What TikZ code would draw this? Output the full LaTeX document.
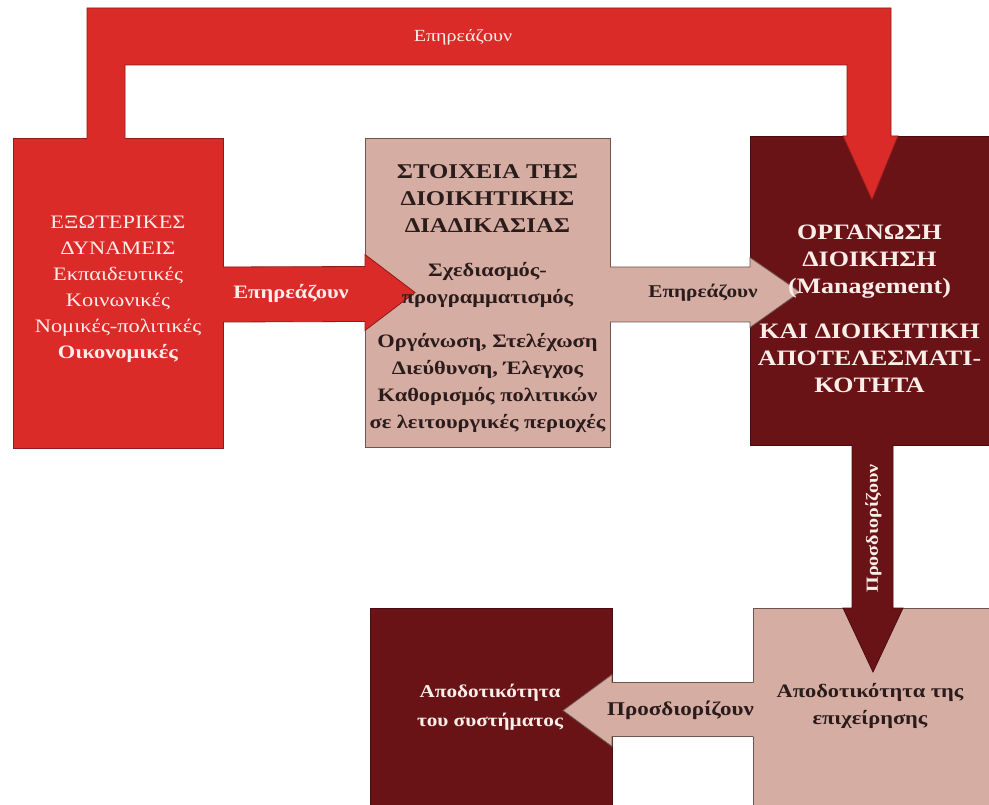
\documentclass[tikz,border=0pt]{standalone}
\usepackage{fontspec}
\setmainfont[FakeStretch=1.18]{Liberation Serif}
\usetikzlibrary{calc}

\definecolor{fireRed}{HTML}{DA2B29}
\definecolor{fireEdge}{HTML}{8E1A1A}
\definecolor{wine}{HTML}{6A1317}
\definecolor{wineEdge}{HTML}{4A0C0F}
\definecolor{rose}{HTML}{D5ADA3}
\definecolor{roseEdge}{HTML}{6E5650}
\definecolor{inkDark}{HTML}{2B1C1C}
\definecolor{paleText}{HTML}{FBEDE8}

\newcommand{\titlesize}{\fontsize{21}{27}\selectfont}
\newcommand{\bodysize}{\fontsize{19}{27}\selectfont}

\begin{document}
\begin{tikzpicture}[x=1pt,y=-1pt,
  panel/.style={rectangle, inner sep=0pt, outer sep=0pt, line width=0.9pt, anchor=north west},
  redpanel/.style={panel, fill=fireRed, draw=fireEdge},
  winepanel/.style={panel, fill=wine, draw=wineEdge},
  rosepanel/.style={panel, fill=rose, draw=roseEdge},
  edge/.style={line width=0.8pt, line join=miter},
  lighttext/.style={text=paleText, align=center, inner sep=0pt},
  darktext/.style={text=inkDark, align=center, inner sep=0pt},
]
\useasboundingbox (0,0) rectangle (989,805);
\fill[white] (0,0) rectangle (989,805);

% ---- panels ----
\node[redpanel, minimum width=210pt, minimum height=310pt] (ext) at (13,138) {};
\node[rosepanel, minimum width=245pt, minimum height=309pt] (proc) at (365,138) {};
\node[winepanel, minimum width=245pt, minimum height=309pt] (mgmt) at (750,136) {};
\node[winepanel, minimum width=242pt, minimum height=205pt] (sys) at (370,608) {};
\node[rosepanel, minimum width=242pt, minimum height=205pt] (gain) at (753,608) {};

% ---- top band: external forces -> management ----
\coordinate (bandOut) at (87,8);
\coordinate (bandIn) at (125,65);
\coordinate (bandOutR) at (891,8);
\coordinate (bandInR) at (847,65);
\coordinate (topTip) at (872,200);
\fill[fireRed] ($(bandOut |- ext.north)+(0,2)$) -- (bandOut) -- (bandOutR)
  -- (bandOutR |- mgmt.north) -- ++(7,0) -- (topTip)
  -- ($(bandInR |- mgmt.north)+(-4,0)$) -- (bandInR |- mgmt.north)
  -- (bandInR) -- (bandIn) -- ($(bandIn |- ext.north)+(0,2)$) -- cycle;
\draw[edge, fireEdge] (bandOut |- ext.north) -- (bandOut) -- (bandOutR)
  -- (bandOutR |- mgmt.north) -- ++(7,0) -- (topTip)
  -- ($(bandInR |- mgmt.north)+(-4,0)$) -- (bandInR |- mgmt.north)
  -- (bandInR) -- (bandIn) -- (bandIn |- ext.north);

% ---- external forces -> process elements ----
\fill[fireRed] ($(ext.east)+(-2,-26)$) -- ($(proc.west)+(0,-26)$) -- ($(proc.west)+(0,-38)$)
  -- ($(proc.west)+(50,0)$) -- ($(proc.west)+(0,38)$) -- ($(proc.west)+(0,29)$)
  -- ($(ext.east)+(-2,29)$) -- cycle;
\draw[edge, fireEdge] ($(ext.east)+(0,-26)$) -- ($(proc.west)+(0,-26)$) -- ($(proc.west)+(0,-38)$)
  -- ($(proc.west)+(50,0)$) -- ($(proc.west)+(0,38)$) -- ($(proc.west)+(0,29)$)
  -- ($(ext.east)+(0,29)$);

% ---- process elements -> management ----
\fill[rose] ($(proc.east)+(-2,-25.5)$) -- ($(mgmt.west)+(0,-23.5)$) -- ($(mgmt.west)+(0,-33)$)
  -- ($(mgmt.west)+(50,1.5)$) -- ($(mgmt.west)+(0,37)$) -- ($(mgmt.west)+(0,31.5)$)
  -- ($(proc.east)+(-2,29.5)$) -- cycle;
\draw[edge, roseEdge] ($(proc.east)+(0,-25.5)$) -- ($(mgmt.west)+(0,-23.5)$) -- ($(mgmt.west)+(0,-33)$)
  -- ($(mgmt.west)+(50,1.5)$) -- ($(mgmt.west)+(0,37)$) -- ($(mgmt.west)+(0,31.5)$)
  -- ($(proc.east)+(0,29.5)$);

% ---- management -> company efficiency ----
\coordinate (vL) at ($(mgmt.south)+(-20.5,-2)$);
\coordinate (vR) at ($(mgmt.south)+(20.5,-2)$);
\fill[wine] (vL) -- (vL |- gain.north) -- ++(-9,0) -- ($(gain.north)+(-1,64)$)
  -- ($(vR |- gain.north)+(10,0)$) -- (vR |- gain.north) -- (vR) -- cycle;
\draw[edge, wineEdge] ($(vL)+(0,2)$) -- (vL |- gain.north) -- ++(-9,0) -- ($(gain.north)+(-1,64)$)
  -- ($(vR |- gain.north)+(10,0)$) -- (vR |- gain.north) -- ($(vR)+(0,2)$);

% ---- company efficiency -> system efficiency ----
\fill[rose] ($(gain.west)+(2,-28)$) -- ($(sys.east)+(0,-28)$) -- ($(sys.east)+(0,-36)$)
  -- ($(sys.east)+(-49,0)$) -- ($(sys.east)+(0,36)$) -- ($(sys.east)+(0,26)$)
  -- ($(gain.west)+(2,26)$) -- cycle;
\draw[edge, roseEdge] ($(gain.west)+(0,-28)$) -- ($(sys.east)+(0,-28)$) -- ($(sys.east)+(0,-36)$)
  -- ($(sys.east)+(-49,0)$) -- ($(sys.east)+(0,36)$) -- ($(sys.east)+(0,26)$)
  -- ($(gain.west)+(0,26)$);

% ---- panel texts ----
\node[lighttext, font=\fontsize{19}{26}\selectfont] (extText) at ($(ext.center)+(0,-4)$)
  {ΕΞΩΤΕΡΙΚΕΣ\\ΔΥΝΑΜΕΙΣ\\Εκπαιδευτικές\\Κοινωνικές\\Νομικές-πολιτικές\\\textbf{Οικονομικές}};
\node[darktext, font=\bfseries\titlesize] (procText) at ($(proc.center)+(0,6)$)
  {ΣΤΟΙΧΕΙΑ ΤΗΣ\\ΔΙΟΙΚΗΤΙΚΗΣ\\ΔΙΑΔΙΚΑΣΙΑΣ\\[17pt]
   \bodysize Σχεδιασμός-\\\bodysize προγραμματισμός\\[17pt]
   \bodysize Οργάνωση, Στελέχωση\\\bodysize Διεύθυνση, Έλεγχος\\\bodysize Καθορισμός πολιτικών\\\bodysize σε λειτουργικές περιοχές};
\node[lighttext, font=\bfseries\fontsize{22}{27}\selectfont] (mgmtText) at ($(mgmt.center)+(-3,18)$)
  {ΟΡΓΑΝΩΣΗ\\ΔΙΟΙΚΗΣΗ\\(Management)\\[18pt]ΚΑΙ ΔΙΟΙΚΗΤΙΚΗ\\ΑΠΟΤΕΛΕΣΜΑΤΙ-\\ΚΟΤΗΤΑ};
\node[lighttext, font=\bfseries\fontsize{18}{29}\selectfont] (sysText) at (490,707)
  {Αποδοτικότητα\\του συστήματος};
\node[darktext, font=\bfseries\fontsize{19}{27}\selectfont] (gainText) at (870,706)
  {Αποδοτικότητα της\\επιχείρησης};

% ---- connector labels ----
\node[lighttext, font=\fontsize{17}{18}\selectfont] (topLabel) at (463,37) {Επηρεάζουν};
\node[lighttext, font=\bfseries\fontsize{19}{20}\selectfont] (leftLabel) at ($(ext.east)!0.5!(proc.west)+(-3,1)$) {Επηρεάζουν};
\node[darktext, font=\bfseries\fontsize{18}{20}\selectfont] (midLabel) at ($(proc.east)!0.5!(mgmt.west)+(23,1)$) {Επηρεάζουν};
\node[lighttext, font=\bfseries\fontsize{17}{18}\selectfont, rotate=90] (vLabel) at ($(mgmt.south)!0.5!(gain.north)+(0,2)$) {Προσδιορίζουν};
\node[darktext, font=\bfseries\fontsize{19.5}{20}\selectfont] (lowLabel) at ($(gain.west)!0.5!(sys.east)+(-2,0)$) {Προσδιορίζουν};
\end{tikzpicture}
\end{document}
